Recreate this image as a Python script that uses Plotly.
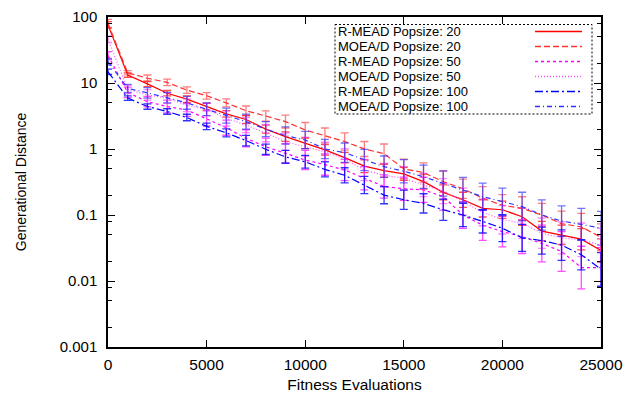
import plotly.graph_objects as go

evals = [i * 1000 for i in range(26)]
x_ticks = [0, 5000, 10000, 15000, 20000, 25000]
x_labels = ["0", "5000", "10000", "15000", "20000", "25000"]
y_ticks = [0.001, 0.01, 0.1, 1, 10, 100]
y_labels = ["0.001", "0.01", "0.1", "1", "10", "100"]

rmead20 = [76, 13.2, 9.7, 7.0, 5.7, 4.4, 3.4, 2.8, 2.0, 1.54, 1.22, 0.97, 0.74, 0.55, 0.47, 0.42,
           0.32, 0.22, 0.17, 0.126, 0.12, 0.094, 0.057, 0.05, 0.043, 0.029]
moead20 = [80, 14.3, 11.8, 10.2, 7.8, 6.4, 5.0, 3.8, 3.16, 2.6, 1.94, 1.6, 1.3, 1.0, 0.85, 0.5,
           0.44, 0.32, 0.25, 0.18, 0.14, 0.126, 0.1, 0.074, 0.066, 0.046]
rmead50 = [26, 7.2, 5.2, 4.4, 3.9, 2.9, 2.1, 1.45, 1.08, 0.86, 0.68, 0.58, 0.48, 0.36, 0.27, 0.25,
           0.24, 0.19, 0.1, 0.07, 0.056, 0.047, 0.037, 0.028, 0.016, 0.016]
moead50 = [46, 8.0, 6.6, 5.9, 4.6, 4.0, 2.9, 2.3, 1.74, 1.29, 1.08, 0.91, 0.70, 0.48, 0.4, 0.36,
           0.285, 0.23, 0.16, 0.11, 0.085, 0.075, 0.053, 0.045, 0.042, 0.035]
rmead100 = [14.8, 5.9, 4.4, 3.7, 3.0, 2.2, 1.76, 1.34, 0.99, 0.76, 0.64, 0.49, 0.40, 0.285, 0.2, 0.17,
            0.15, 0.12, 0.10, 0.08, 0.063, 0.045, 0.041, 0.035, 0.025, 0.015]
moead100 = [21, 8.3, 7.1, 6.0, 5.0, 4.0, 3.2, 2.6, 2.0, 1.6, 1.37, 1.0, 0.88, 0.68, 0.54, 0.46,
            0.38, 0.30, 0.24, 0.19, 0.16, 0.134, 0.1, 0.081, 0.072, 0.063]

# multiplicative spread of the error bars
err_rmead20 = [1.12, 1.08, 1.1, 1.1, 1.12, 1.12, 1.12, 1.15, 1.15, 1.18, 1.2, 1.2, 1.2, 1.25, 1.25, 1.25,
               1.3, 1.3, 1.3, 1.35, 1.35, 1.35, 1.4, 1.4, 1.45, 1.5]
err_moead20 = [1.15, 1.08, 1.12, 1.12, 1.12, 1.12, 1.15, 1.18, 1.2, 1.25, 1.3, 1.3, 1.35, 1.3, 1.4, 1.4,
               1.4, 1.45, 1.4, 1.5, 1.45, 1.5, 1.5, 1.55, 1.6, 1.6]
err_rmead50 = [1.15, 1.2, 1.2, 1.25, 1.25, 1.3, 1.3, 1.35, 1.35, 1.4, 1.4, 1.45, 1.45, 1.5, 1.5, 1.5,
               1.55, 1.6, 1.6, 1.7, 1.7, 1.8, 1.9, 2.0, 2.1, 2.0]
err_moead50 = [1.12, 1.15, 1.2, 1.2, 1.25, 1.25, 1.3, 1.3, 1.35, 1.35, 1.4, 1.4, 1.45, 1.45, 1.5, 1.5,
               1.5, 1.55, 1.6, 1.6, 1.65, 1.7, 1.7, 1.75, 1.8, 1.8]
err_rmead100 = [1.1, 1.08, 1.1, 1.1, 1.12, 1.12, 1.15, 1.2, 1.2, 1.25, 1.25, 1.3, 1.3, 1.35, 1.35, 1.4,
                1.4, 1.45, 1.5, 1.5, 1.6, 1.6, 1.6, 1.7, 1.7, 1.8]
err_moead100 = [1.12, 1.15, 1.2, 1.2, 1.25, 1.25, 1.3, 1.3, 1.3, 1.35, 1.35, 1.4, 1.4, 1.45, 1.45, 1.5,
                1.5, 1.55, 1.55, 1.6, 1.6, 1.65, 1.7, 1.7, 1.75, 1.8]

series = [
    ("R-MEAD Popsize: 20", rmead20, err_rmead20, "#ff0000", "solid", "rgba(255,0,0,0.7)"),
    ("MOEA/D Popsize: 20", moead20, err_moead20, "#ff3030", "6px,3px", "rgba(255,40,40,0.6)"),
    ("R-MEAD Popsize: 50", rmead50, err_rmead50, "#ff00ff", "3px,3px", "rgba(255,0,255,0.7)"),
    ("MOEA/D Popsize: 50", moead50, err_moead50, "#ff50ff", "1px,2px", "rgba(255,60,255,0.6)"),
    ("R-MEAD Popsize: 100", rmead100, err_rmead100, "#0000ff", "8px,3px,2px,3px", "rgba(0,0,255,0.8)"),
    ("MOEA/D Popsize: 100", moead100, err_moead100, "#3030ff", "5px,3px,1px,3px", "rgba(40,40,255,0.65)"),
]

fig = go.Figure()
for name, vals, errs, color, dash, ecolor in series:
    plus = [v * (f - 1) for v, f in zip(vals, errs)]
    minus = [v * (1 - 1 / f) for v, f in zip(vals, errs)]
    fig.add_trace(go.Scatter(
        x=evals, y=vals, name=name, mode="lines",
        line=dict(color=color, width=1.2, dash=dash),
        error_y=dict(type="data", array=plus, arrayminus=minus, symmetric=False,
                     color=ecolor, thickness=1.3, width=4),
        showlegend=False,
    ))

# plot area pixel geometry (for the gnuplot-style key drawn in the corner)
L, R, T, B = 108, 601, 17, 347
W, H = 627, 393


def px(x):
    return (x - L) / (R - L)


def py(y):
    return (B - y) / (B - T)


font = "Liberation Sans, Arial, sans-serif"
row_y = [31.5, 46.5, 61.5, 76.5, 91.5, 106.5]
shapes = [dict(type="rect", xref="paper", yref="paper",
               x0=px(335), x1=px(592), y0=py(24.5), y1=py(114),
               line=dict(color="black", width=1, dash="2px,2px"), fillcolor="white", layer="above")]
annotations = []
for (name, vals, errs, color, dash, ecolor), yy in zip(series, row_y):
    annotations.append(dict(xref="paper", yref="paper", x=px(336), y=py(yy), text=name,
                            showarrow=False, xanchor="left", yanchor="middle",
                            font=dict(family=font, size=13, color="black")))
    shapes.append(dict(type="line", xref="paper", yref="paper", x0=px(535), x1=px(582),
                       y0=py(yy), y1=py(yy), line=dict(color=color, width=1.4, dash=dash), layer="above"))

minor_y = [m * d for d in [0.001, 0.01, 0.1, 1, 10] for m in (2, 5, 8)]

fig.update_layout(
    width=W, height=H,
    margin=dict(l=L, r=W - R, t=T, b=H - B, autoexpand=False),
    paper_bgcolor="white", plot_bgcolor="white",
    font=dict(family=font, size=15, color="black"),
    shapes=shapes, annotations=annotations,
    xaxis=dict(range=[0, 25000], tickvals=x_ticks, ticktext=x_labels, automargin=False,
               ticks="inside", ticklen=7, tickcolor="black", mirror="allticks",
               showline=True, linecolor="black", linewidth=1.5, showgrid=False, zeroline=False,
               ticklabelstandoff=3,
               title=dict(text="Fitness Evaluations", standoff=8, font=dict(size=15.5)),
               tickfont=dict(size=15.5)),
    yaxis=dict(type="log", range=[-3, 2], tickvals=y_ticks, ticktext=y_labels, automargin=False,
               ticks="inside", ticklen=7, tickcolor="black", mirror="allticks",
               minor=dict(tickvals=minor_y, ticks="inside", ticklen=4, tickcolor="black", showgrid=False),
               showline=True, linecolor="black", linewidth=1.5, showgrid=False, zeroline=False,
               ticklabelstandoff=6,
               title=dict(text="Generational Distance", standoff=30, font=dict(size=14)),
               tickfont=dict(size=15)),
)

fig.write_html("out.html")
